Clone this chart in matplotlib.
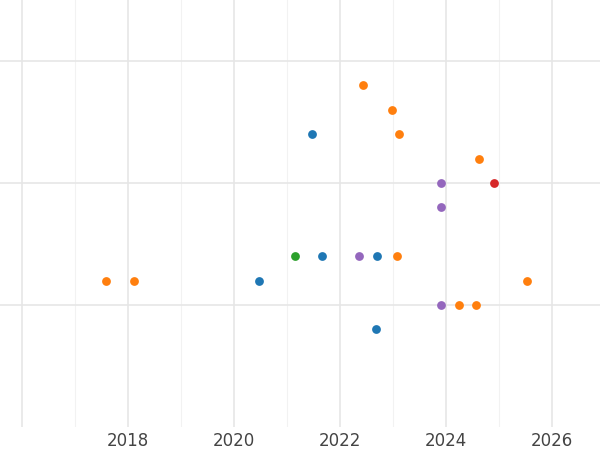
import matplotlib.pyplot as plt

orange_x = [2022.43, 2022.98, 2023.11, 2024.62, 2017.58, 2018.11, 2023.08, 2025.53, 2024.25, 2024.57]
orange_y = [14, 13, 12, 11, 6, 6, 7, 6, 5, 5]
blue_x = [2021.47, 2021.66, 2022.70, 2020.47, 2022.68]
blue_y = [12, 7, 7, 6, 4]
green_x = [2021.15]
green_y = [7]
purple_x = [2023.91, 2023.91, 2022.36, 2023.91]
purple_y = [10, 9, 7, 5]
red_x = [2024.91]
red_y = [10]

fig = plt.figure(figsize=(6, 4.5), dpi=100)
ax = fig.add_axes([0, 0.051, 1, 0.949])

ax.set_xlim(2015.585, 2026.906)
ax.set_ylim(0, 17.5)
ax.set_xticks([2016, 2018, 2020, 2022, 2024, 2026])
ax.set_xticklabels(['', '2018', '2020', '2022', '2024', '2026'])
ax.set_xticks([2017, 2019, 2021, 2023, 2025], minor=True)
ax.set_yticks([5, 10, 15])
ax.set_yticklabels([])
ax.grid(True, which='major', color='#e6e6e6', lw=1.2)
ax.grid(True, which='minor', axis='x', color='#f2f2f2', lw=0.8)
ax.set_axisbelow(True)
ax.tick_params(which='both', length=0, labelsize=12, labelcolor='#444444')
for s in ax.spines.values():
    s.set_visible(False)

for xs, ys, c in [(blue_x, blue_y, '#1f77b4'), (orange_x, orange_y, '#ff7f0e'),
                  (green_x, green_y, '#2ca02c'), (purple_x, purple_y, '#9467bd'),
                  (red_x, red_y, '#d62728')]:
    ax.scatter(xs, ys, s=40, color=c, zorder=3, linewidths=0)

fig.savefig('out.png', dpi=100)
